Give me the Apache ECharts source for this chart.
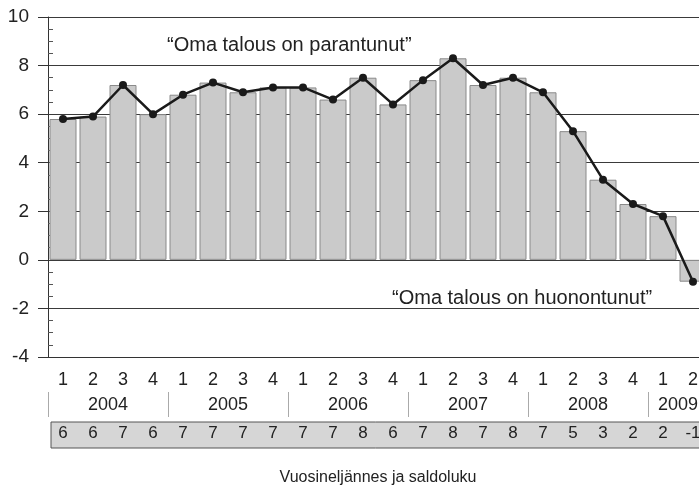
<!DOCTYPE html>
<html>
<head>
<meta charset="utf-8">
<script src="https://cdn.jsdelivr.net/npm/echarts@6/dist/echarts.min.js"></script>
<style>
  html, body { margin: 0; padding: 0; background: #fff; }
  #main { width: 699px; height: 488px; }
</style>
</head>
<body>
<div id="main"></div>
<script>
// vuosineljännekset 2004Q1 - 2009Q2
const quarters = ['1','2','3','4','1','2','3','4','1','2','3','4','1','2','3','4','1','2','3','4','1','2']
const years = ['2004', '2005', '2006', '2007', '2008', '2009']
const yearStarts = [0, 4, 8, 12, 16, 20]
const yearCenters = [2, 6, 10, 14, 18, 21]
const values = [5.8, 5.9, 7.2, 6.0, 6.8, 7.3, 6.9, 7.1, 7.1, 6.6, 7.5, 6.4, 7.4, 8.3, 7.2, 7.5, 6.9, 5.3, 3.3, 2.3, 1.8, -0.9]
const saldo = ['6','6','7','6','7','7','7','7','7','7','8','6','7','8','7','8','7','5','3','2','2','-1']

const narrow = '"Liberation Sans", Arial, sans-serif'
const plain = '"Liberation Sans", Arial, sans-serif'

const chart = echarts.init(document.getElementById('main'))

const option = {
  animation: false,
  backgroundColor: '#fff',
  grid: { left: 48, top: 17, width: 660, height: 340, outerBoundsMode: 'none', containLabel: false },
  xAxis: [
    {
      type: 'category',
      data: quarters,
      axisLine: { show: true, onZero: false, lineStyle: { color: '#333', width: 1 } },
      axisTick: { show: false },
      axisLabel: { color: '#222', fontSize: 18, fontFamily: narrow, margin: 14 }
    },
    {
      type: 'value',
      min: 0,
      max: 22,
      position: 'bottom',
      offset: 35,
      axisLine: { show: false, onZero: false },
      splitLine: { show: false },
      axisTick: { show: true, length: 25, customValues: yearStarts, lineStyle: { color: '#aaa' } },
      axisLabel: {
        customValues: yearCenters,
        color: '#222', fontSize: 18, fontFamily: narrow, margin: 4,
        formatter: v => years[yearCenters.indexOf(v)] || ''
      }
    },
    {
      type: 'category',
      data: saldo,
      position: 'bottom',
      offset: 65,
      axisLine: { show: false, onZero: false },
      axisTick: { show: false },
      axisLabel: { color: '#222', fontSize: 17, fontFamily: narrow, margin: 3 },
      name: 'Vuosineljännes ja saldoluku',
      nameLocation: 'middle',
      nameGap: 48,
      nameTextStyle: { color: '#222', fontSize: 16, fontFamily: narrow }
    }
  ],
  yAxis: [
    {
      type: 'value',
      min: -4,
      max: 10,
      interval: 2,
      axisLine: { show: true, lineStyle: { color: '#333' } },
      axisTick: { show: true, length: 10, lineStyle: { color: '#333' } },
      axisLabel: { color: '#222', fontSize: 19, fontFamily: narrow, margin: 19 },
      splitLine: { show: true, lineStyle: { color: '#3a3a3a', width: 1 } }
    },
    {
      type: 'value',
      min: -4,
      max: 10,
      interval: 2,
      position: 'left',
      axisLine: { show: false },
      axisTick: { show: false, inside: true },
      minorTick: { show: true, splitNumber: 4, length: 5, lineStyle: { color: '#555' } },
      axisLabel: { show: false },
      splitLine: { show: false }
    }
  ],
  graphic: [
    {
      type: 'rect', z: -10,
      shape: { x: 51, y: 422, width: 660, height: 26 },
      style: { fill: '#d6d6d6', stroke: '#555', lineWidth: 1 }
    },
    {
      type: 'text', left: 167, top: 35,
      style: { text: '“Oma talous on parantunut”', fill: '#222', font: '20px ' + plain }
    },
    {
      type: 'text', left: 392, top: 288,
      style: { text: '“Oma talous on huonontunut”', fill: '#222', font: '20px ' + plain }
    }
  ],
  series: [
    {
      type: 'bar',
      data: values,
      barCategoryGap: '10%',
      itemStyle: { color: '#cacaca', borderColor: '#8a8a8a', borderWidth: 1 }
    },
    {
      type: 'line',
      data: values,
      symbol: 'circle',
      symbolSize: 8,
      z: 5,
      lineStyle: { color: '#1a1a1a', width: 2.5 },
      itemStyle: { color: '#1a1a1a' }
    }
  ]
}

option && chart.setOption(option)
</script>
</body>
</html>
